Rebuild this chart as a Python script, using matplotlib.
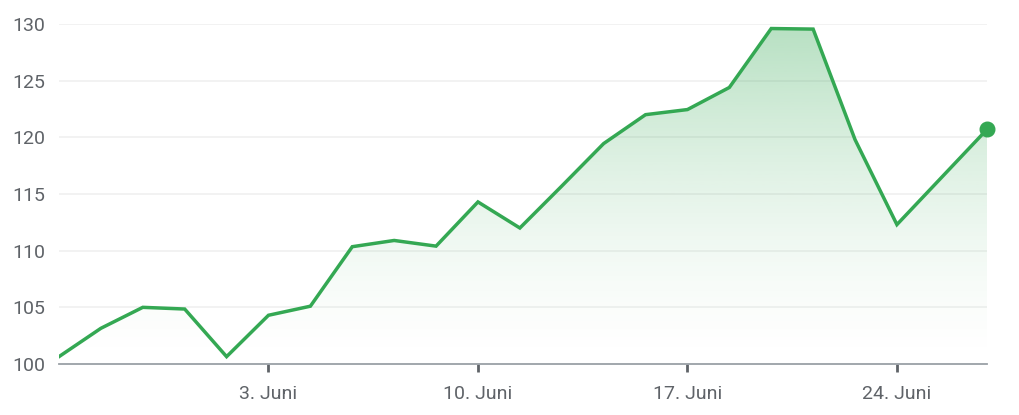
import numpy as np
import matplotlib
matplotlib.use("Agg")
import matplotlib.pyplot as plt
from matplotlib.patches import Polygon

plt.rcParams['font.family'] = ['Roboto', 'DejaVu Sans']

# trading-day position (weekends skipped), last point is the intraday quote
day = [0, 1, 2, 3, 4, 5, 6, 7, 8, 9, 10, 11, 12, 13, 14, 15, 16, 17, 18, 19, 20, 22.15]
price = [100.65, 103.15, 105.0, 104.85, 100.65, 104.3, 105.1, 110.35, 110.9, 110.4,
         114.3, 112.0, 115.7, 119.45, 122.0, 122.45, 124.4, 129.6, 129.55, 119.8,
         112.3, 120.7]
tick_pos = [5, 10, 15, 20]
tick_labels = ["3. Juni", "10. Juni", "17. Juni", "24. Juni"]
y_ticks = [100, 105, 110, 115, 120, 125, 130]

green = "#34a853"
gray_txt = "#5f6368"

fig = plt.figure(figsize=(10.2, 4.15), dpi=100)
ax = fig.add_axes([59 / 1020, 1 - 364 / 415, (987 - 59) / 1020, (364 - 24) / 415])
ax.set_xlim(day[0], day[-1])
ax.set_ylim(100, 130)

# gradient fill under the line
h = 300
t = np.linspace(0, 1, h)[:, None]          # 0 bottom -> 1 top
alpha = 0.36 * t ** 1.5
rgba = np.zeros((h, 1, 4))
rgba[..., 0] = 52 / 255
rgba[..., 1] = 168 / 255
rgba[..., 2] = 83 / 255
rgba[..., 3] = alpha
im = ax.imshow(rgba, aspect='auto', origin='lower',
               extent=[day[0], day[-1], 100, 130], zorder=1)
poly = Polygon(list(zip(day, price)) + [(day[-1], 100), (day[0], 100)],
               closed=True, facecolor='none', edgecolor='none')
ax.add_patch(poly)
im.set_clip_path(poly)

ax.plot(day, price, color=green, lw=2.5, zorder=3, solid_joinstyle='miter')
ax.plot(day[-1], price[-1], 'o', color=green, ms=10.5, zorder=4, clip_on=False)

for v in y_ticks[1:]:
    ax.axhline(v, color="#f0f0f0", lw=1.2, zorder=0)

for s in ['top', 'right', 'left']:
    ax.spines[s].set_visible(False)
ax.spines['bottom'].set_color("#9aa0a6")
ax.spines['bottom'].set_linewidth(1.3)

ax.set_yticks(y_ticks)
ax.set_yticklabels([str(v) for v in y_ticks])
ax.tick_params(axis='y', length=0, pad=10, labelsize=14, labelcolor=gray_txt)
ax.set_xticks(tick_pos)
ax.set_xticklabels(tick_labels)
ax.tick_params(axis='x', length=6, width=2, color=gray_txt, pad=9,
               labelsize=14, labelcolor=gray_txt)

fig.savefig("out.png", dpi=100)
